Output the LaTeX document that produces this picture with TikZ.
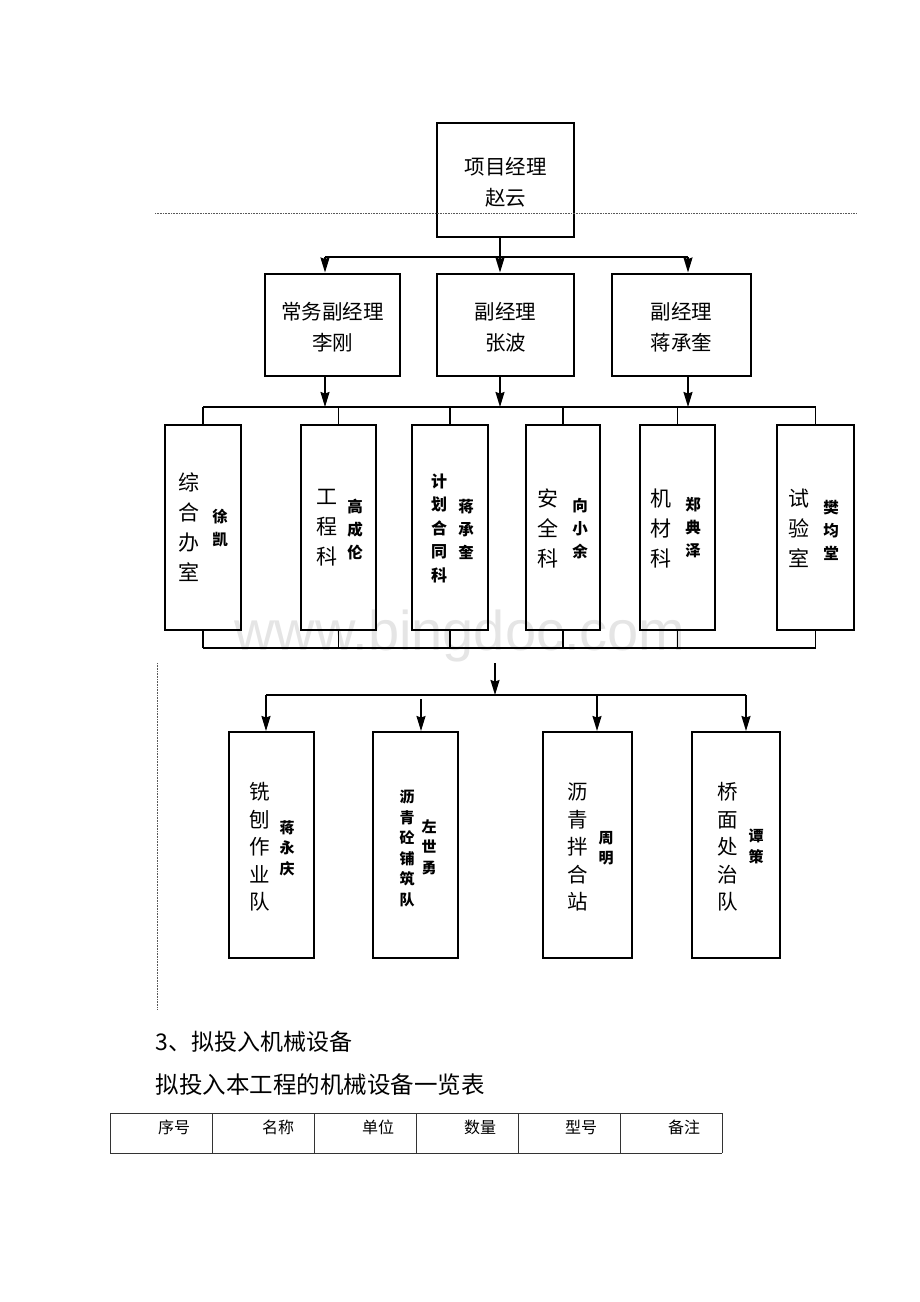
\documentclass[tikz,border=0pt]{standalone}
\usepackage{fontspec}
\usepackage{tikz}
\usetikzlibrary{arrows.meta}
\setmainfont{Liberation Serif}
\newfontfamily\cjk{Noto Sans CJK SC}
\newfontfamily\marksans{Liberation Sans}
\tikzstyle{unit} = [rectangle, draw, line width=2pt, inner sep=0pt]
\tikzstyle{post} = [font=\cjk\fontsize{20.5}{31}\selectfont, align=center, inner sep=0pt]
\tikzstyle{dept} = [font=\cjk\fontsize{21}{30}\selectfont, align=center, inner sep=0pt]
\tikzstyle{head} = [font=\cjk\bfseries\fontsize{15.5}{23}\selectfont, align=center, inner sep=0pt]
\tikzstyle{guide} = [densely dotted, line width=0.6pt, black!65]

\begin{document}
\begin{tikzpicture}[>={Stealth[length=15pt,width=9pt,inset=1.5pt]},line width=1.5pt,x=1pt,y=-1pt]
  \useasboundingbox (0,0) rectangle (920,1302);
  \node[text=black!10, font=\marksans\fontsize{56}{56}\selectfont] (mark) at (460,636) {www.bingdoc.com};

  % top
  \node[unit, minimum width=137pt, minimum height=114pt] (pm) at (505.5,180) {};
  \node[post] (pm_t) at (505.5,182.5) {项目经理\\赵云};
  \draw[guide] (155,213) -- (857,213);

  % deputies
  \node[unit, minimum width=135pt, minimum height=102pt] (vp1) at (332.5,324.5) {};
  \node[unit, minimum width=137pt, minimum height=102pt] (vp2) at (505.5,324.5) {};
  \node[unit, minimum width=139pt, minimum height=102pt] (vp3) at (681.5,324.5) {};
  \node[post] (vp1_t) at (332.5,327.5) {常务副经理\\李刚};
  \node[post] (vp2_t) at (505.5,327.5) {副经理\\张波};
  \node[post] (vp3_t) at (681.5,327.5) {副经理\\蒋承奎};

  \coordinate (j0) at (500,257);
  \coordinate (j1) at (325,257);
  \coordinate (j3) at (688,257);
  \draw (pm.south -| j0) -- (j0);
  \draw (j1) -- (j3);
  \draw[->] (j1) -- (j1 |- vp1.north);
  \draw[->] (j0) -- (j0 |- vp2.north);
  \draw[->] (j3) -- (j3 |- vp3.north);

  % sections
  \node[unit, minimum width=76pt, minimum height=205pt] (s1) at (203,527.5) {};
  \node[unit, minimum width=75pt, minimum height=205pt] (s2) at (338.5,527.5) {};
  \node[unit, minimum width=76pt, minimum height=205pt] (s3) at (450,527.5) {};
  \node[unit, minimum width=74pt, minimum height=205pt] (s4) at (563,527.5) {};
  \node[unit, minimum width=75pt, minimum height=205pt] (s5) at (677.5,527.5) {};
  \node[unit, minimum width=77pt, minimum height=205pt] (s6) at (815.5,527.5) {};

  \node[dept] (s1_t) at (189,527.5) {综\\合\\办\\室};
  \node[head] (s1_n) at (220,528.5) {徐\\凯};
  \node[dept] (s2_t) at (327,528) {工\\程\\科};
  \node[head] (s2_n) at (355,530) {高\\成\\伦};
  \node[head, font=\cjk\bfseries\fontsize{16}{23.5}\selectfont] (s3_t) at (439,528) {计\\划\\合\\同\\科};
  \node[head] (s3_n) at (466,529) {蒋\\承\\奎};
  \node[dept] (s4_t) at (548,528) {安\\全\\科};
  \node[head] (s4_n) at (580,529) {向\\小\\余};
  \node[dept] (s5_t) at (661,528) {机\\材\\科};
  \node[head] (s5_n) at (693,528) {郑\\典\\泽};
  \node[dept] (s6_t) at (799,528) {试\\验\\室};
  \node[head] (s6_n) at (831,530) {樊\\均\\堂};

  \coordinate (k1) at (203,407);
  \coordinate (k6) at (815.5,407);
  \draw[->] (vp1.south -| j1) -- (j1 |- k1);
  \draw[->] (vp2.south -| j0) -- (j0 |- k1);
  \draw[->] (vp3.south -| j3) -- (j3 |- k1);
  \draw (k1) -- (k6);
  \coordinate (m1) at (203,648);
  \coordinate (m6) at (815.5,648);
  \draw (m1) -- (m6);
  \foreach \s in {s1,s2,s3,s4,s5,s6} {
    \draw (\s.north) -- (\s.north |- k1);
    \draw (\s.south) -- (\s.south |- m1);
  }

  % teams
  \node[unit, minimum width=85pt, minimum height=226pt] (t1) at (271.5,845) {};
  \node[unit, minimum width=85pt, minimum height=226pt] (t2) at (415.5,845) {};
  \node[unit, minimum width=89pt, minimum height=226pt] (t3) at (587.5,845) {};
  \node[unit, minimum width=88pt, minimum height=226pt] (t4) at (736,845) {};

  \node[dept, font=\cjk\fontsize{20.5}{27.5}\selectfont] (t1_t) at (260,847) {铣\\刨\\作\\业\\队};
  \node[head, font=\cjk\bfseries\fontsize{15}{20.5}\selectfont] (t1_n) at (287,848) {蒋\\永\\庆};
  \node[head, font=\cjk\bfseries\fontsize{15}{20.6}\selectfont] (t2_t) at (407,848.5) {沥\\青\\砼\\铺\\筑\\队};
  \node[head, font=\cjk\bfseries\fontsize{15}{20.5}\selectfont] (t2_n) at (429,847) {左\\世\\勇};
  \node[dept, font=\cjk\fontsize{20.5}{27.5}\selectfont] (t3_t) at (578,847) {沥\\青\\拌\\合\\站};
  \node[head, font=\cjk\bfseries\fontsize{15}{20.5}\selectfont] (t3_n) at (606,848) {周\\明};
  \node[dept, font=\cjk\fontsize{20.5}{27.5}\selectfont] (t4_t) at (728,847) {桥\\面\\处\\治\\队};
  \node[head, font=\cjk\bfseries\fontsize{15}{20.5}\selectfont] (t4_n) at (756,846.5) {谭\\策};

  \coordinate (n0) at (495,663);
  \coordinate (n1) at (266,695);
  \coordinate (n2) at (421,699);
  \coordinate (n3) at (597,695);
  \coordinate (n4) at (746,695);
  \draw[->] (n0) -- (n0 |- n1);
  \draw (n1) -- (n4);
  \draw[->] (n1) -- (n1 |- t1.north);
  \draw[->] (n2) -- (n2 |- t2.north);
  \draw[->] (n3) -- (n3 |- t3.north);
  \draw[->] (n4) -- (n4 |- t4.north);
  \draw[guide] (157,663) -- (157,1010);

  % text and table below
  \node[anchor=west, inner sep=0pt, font=\cjk\fontsize{23}{23}\selectfont] (sec3) at (155,1042) {3、拟投入机械设备};
  \node[anchor=west, inner sep=0pt, font=\cjk\fontsize{23.5}{23.5}\selectfont] (tab_title) at (155,1085) {拟投入本工程的机械设备一览表};
  \draw[line width=1pt, black!80] (110,1113) -- (722,1113);
  \draw[line width=1pt, black!80] (110,1153) -- (722,1153);
  \foreach \x in {110,212,...,722}
    \draw[line width=1pt, black!80] (\x,1113) -- (\x,1153);
  \foreach \x/\t in {174/序号,278/名称,378/单位,480/数量,581/型号,684/备注}
    \node[inner sep=0pt, font=\cjk\fontsize{16}{16}\selectfont] (hd\x) at (\x,1127) {\t};
\end{tikzpicture}
\end{document}
